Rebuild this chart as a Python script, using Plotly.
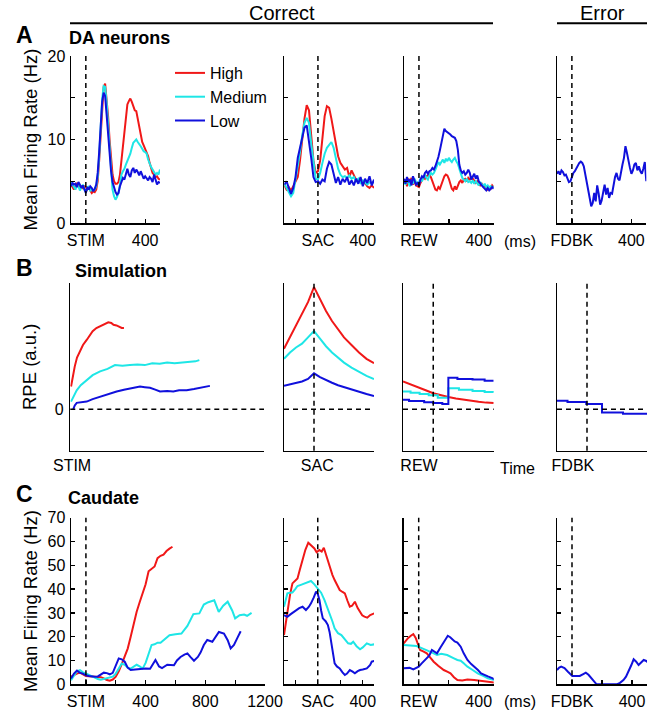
import plotly.graph_objects as go

W, H = 666, 717
RED = "#F01818"
CYAN = "#1EE6E6"
BLUE = "#1010DC"
FONT = "Arial, Liberation Sans, sans-serif"

# ---------------- Row A : DA neurons (Hz) ----------------
tA1 = list(range(-100, 501, 10))
a1_high = [4.6, 4.3, 4.0, 4.4, 4.8, 4.5, 4.2, 4.5, 4.1, 4.4, 4.3, 4.0, 4.3, 3.9, 3.6, 3.8, 3.7, 4.0, 5.0, 7.5,
           10.5, 14.0, 16.3, 16.7, 15.0, 12.8, 10.0, 7.5, 5.8, 5.0, 4.7, 4.7, 4.9, 5.8, 7.5, 9.5, 11.5, 13.0, 14.2, 14.6,
           14.9, 14.5, 14.0, 13.5, 13.4, 12.5, 11.3, 10.3, 9.7, 9.3, 8.8, 8.5, 8.0, 7.2, 6.6, 6.0, 5.8, 5.5, 5.6, 5.3, 5.2]
a1_med = [4.9, 4.6, 4.2, 4.0, 4.6, 4.4, 3.9, 4.3, 4.6, 4.0, 3.7, 4.2, 4.4, 3.8, 4.1, 3.9, 4.0, 4.4, 5.5, 8.0,
          11.5, 14.8, 16.4, 16.3, 14.5, 11.5, 8.5, 5.8, 4.0, 3.2, 2.8, 3.1, 3.6, 4.6, 5.8, 6.2, 6.5, 7.0, 7.4, 7.8,
          8.3, 9.0, 9.6, 9.8, 10.0, 9.7, 9.5, 9.2, 8.9, 8.6, 8.5, 8.3, 7.6, 7.0, 6.7, 6.4, 6.1, 5.8, 6.0, 5.8, 6.4]
a1_low = [4.4, 4.8, 4.6, 4.7, 4.3, 4.9, 4.6, 4.2, 4.5, 3.9, 3.6, 4.3, 4.0, 4.4, 4.2, 3.8, 4.1, 4.6, 6.0, 8.5,
          11.8, 14.5, 15.6, 15.2, 13.0, 10.5, 8.0, 6.2, 4.9, 4.2, 3.7, 3.4, 3.6, 4.4, 5.0, 5.4, 5.2, 5.9, 6.5, 5.8,
          5.5, 6.3, 6.6, 6.0, 6.4, 6.1, 5.7, 6.2, 5.6, 5.3, 5.6, 5.4, 5.1, 5.5, 5.3, 4.9, 5.8, 5.2, 4.6, 4.9, 4.8]

tA2 = list(range(-300, 501, 20))
a2_high = [4.5, 4.0, 4.3, 3.9, 4.4, 5.0, 5.5, 7.5, 10.0, 12.5, 14.1, 13.5, 10.5, 7.5, 6.0, 6.2, 7.5, 10.5, 12.8, 14.0,
           13.8, 12.5, 11.0, 9.2, 8.0, 7.2, 6.8, 6.4, 6.6, 5.5, 6.3, 5.8, 5.2, 5.0, 5.3, 4.7, 4.8, 4.4, 4.2, 4.5, 4.2]
a2_med = [4.7, 4.2, 3.6, 3.2, 3.6, 5.2, 6.5, 8.5, 10.5, 12.0, 12.6, 12.0, 9.5, 7.0, 5.3, 5.2, 6.0, 7.2, 8.3, 9.0,
          9.4, 9.7, 9.0, 7.8, 6.5, 5.8, 5.5, 5.6, 5.4, 5.7, 5.3, 5.5, 5.0, 5.3, 4.8, 5.1, 4.9, 4.6, 4.9, 4.7, 5.0]
a2_low = [4.6, 5.0, 4.2, 3.5, 4.2, 5.5, 7.8, 9.0, 10.2, 11.4, 11.7, 10.0, 7.8, 5.5, 4.9, 5.0, 4.7, 5.2, 5.0, 6.5,
          7.3, 7.0, 6.0, 4.8, 5.5, 4.6, 5.3, 4.9, 5.5, 4.6, 5.1, 4.5, 5.3, 4.7, 5.5, 4.4, 5.3, 4.8, 5.6, 4.5, 5.2]

tA3 = list(range(-100, 501, 10))
a3_high = [4.7, 5.2, 4.4, 5.3, 4.9, 5.4, 4.6, 5.1, 4.5, 4.4, 4.3, 4.8, 5.2, 5.5, 5.3, 5.6, 5.7, 5.8, 5.5, 5.0,
           4.5, 4.0, 3.9, 4.3, 4.1, 4.6, 5.2, 5.6, 5.8, 5.7, 5.3, 4.6, 4.1, 3.9, 4.4, 4.0, 4.5, 4.9, 5.1, 4.8,
           5.2, 5.3, 5.0, 5.4, 5.2, 5.5, 5.3, 5.1, 4.8, 5.0, 4.6, 4.5, 4.7, 4.4, 4.5, 4.2, 4.0, 4.3, 4.1, 4.5, 4.3]
a3_med = [5.0, 4.6, 5.2, 4.8, 4.4, 5.1, 4.7, 5.3, 4.9, 4.6, 4.9, 5.3, 5.0, 5.5, 5.8, 5.4, 5.2, 5.7, 6.0, 5.8,
          6.0, 6.4, 6.8, 7.3, 7.0, 7.4, 7.6, 7.2, 7.7, 7.4, 7.8, 7.5, 7.3, 7.6, 7.8, 7.4, 7.1, 6.5, 5.8, 5.4,
          5.2, 5.0, 5.3, 4.9, 5.0, 4.8, 5.1, 4.7, 5.0, 4.8, 4.5, 4.9, 4.6, 4.4, 4.7, 4.3, 4.5, 4.2, 4.4, 4.3, 4.4]
a3_low = [5.3, 4.7, 5.5, 4.9, 5.2, 4.5, 5.6, 5.0, 4.6, 4.8, 4.5, 5.2, 5.6, 5.4, 6.0, 6.2, 5.9, 6.2, 6.3, 6.6,
          6.4, 6.8, 7.3, 7.9, 8.7, 9.5, 10.6, 11.3, 11.0, 10.9, 10.8, 10.6, 10.4, 10.3, 10.2, 9.8, 8.8, 7.0, 6.3, 6.0,
          6.2, 5.8, 6.0, 6.4, 6.0, 5.2, 5.6, 5.9, 5.3, 5.7, 5.0, 4.7, 4.5, 4.3, 4.1, 3.9, 4.2, 3.9, 4.1, 4.3, 4.1]

tA4 = list(range(-100, 501, 10))
a4_err = [5.9, 6.2, 5.8, 6.3, 6.1, 5.7, 5.8, 5.3, 4.9, 5.0, 5.5, 6.0, 6.2, 6.6, 7.0, 7.2, 7.35, 7.2, 6.8, 5.8,
          4.5, 3.7, 2.9, 2.0, 2.4, 3.6, 2.6, 4.5, 3.5, 2.2, 2.7, 3.8, 4.6, 3.4, 4.2, 3.0, 3.6, 3.5, 4.6, 5.5,
          6.0, 5.3, 5.1, 6.3, 7.0, 7.8, 9.2, 8.4, 7.2, 6.6, 5.9, 6.3, 7.0, 7.2, 6.3, 6.8, 6.2, 5.9, 6.5, 7.3, 5.0]

# ---------------- Row B : Simulation (RPE, a.u.) ----------------
tB1_high = [5, 15, 30, 45, 65, 85, 110, 130, 150, 175, 200, 225, 255, 275, 290, 310, 330, 345, 360]
b1_high = [0.18, 0.26, 0.34, 0.41, 0.46, 0.51, 0.55, 0.59, 0.62, 0.645, 0.66, 0.67, 0.69, 0.685, 0.67, 0.665, 0.655, 0.645, 0.645]
tB1_med = [5, 20, 43, 70, 110, 150, 200, 250, 300, 350, 400, 450, 500, 550, 600, 650, 700, 750, 800, 840, 866]
b1_med = [0.06, 0.10, 0.15, 0.19, 0.23, 0.27, 0.30, 0.32, 0.35, 0.345, 0.35, 0.355, 0.35, 0.365, 0.36, 0.37, 0.365, 0.37, 0.375, 0.38, 0.39]
tB1_low = [20, 30, 43, 80, 110, 150, 200, 250, 311, 360, 420, 468, 500, 535, 570, 602, 650, 691, 730, 781, 830, 870, 910, 937]
b1_low = [0.0, 0.03, 0.05, 0.055, 0.06, 0.08, 0.10, 0.12, 0.14, 0.155, 0.17, 0.18, 0.175, 0.17, 0.155, 0.14, 0.145, 0.14, 0.15, 0.15, 0.16, 0.17, 0.175, 0.185]

tB2 = [-200, -160, -120, -80, -40, 0, 40, 80, 120, 160, 200, 250, 300, 350, 400]
b2_high = [0.48, 0.57, 0.66, 0.75, 0.85, 0.97, 0.87, 0.78, 0.70, 0.63, 0.57, 0.51, 0.45, 0.40, 0.365]
b2_med = [0.40, 0.45, 0.49, 0.52, 0.57, 0.62, 0.56, 0.50, 0.45, 0.41, 0.37, 0.33, 0.295, 0.265, 0.24]
b2_low = [0.185, 0.195, 0.21, 0.22, 0.24, 0.285, 0.255, 0.23, 0.21, 0.19, 0.175, 0.155, 0.135, 0.12, 0.105]

tB3_high = [-200, -150, -100, -50, 0, 50, 100, 150, 200, 250, 300, 350, 400]
b3_high = [0.22, 0.195, 0.175, 0.15, 0.127, 0.11, 0.097, 0.085, 0.075, 0.066, 0.058, 0.052, 0.048]
tB3_med = [-200, -150, -90, -30, 30, 100, 170, 260, 340, 400]
b3_med = [0.14, 0.13, 0.12, 0.11, 0.09, 0.167, 0.155, 0.145, 0.137, 0.135]
tB3_low = [-200, -160, -60, 0, 60, 100, 160, 260, 340, 400]
b3_low = [0.074, 0.065, 0.055, 0.048, 0.042, 0.25, 0.24, 0.235, 0.225, 0.225]

tB4 = [-200, -130, -5, 100, 240, 400]
b4_err = [0.066, 0.056, 0.042, -0.027, -0.037, -0.037]

# ---------------- Row C : Caudate (Hz) ----------------
tC1_high = [-100, -80, -60, -40, -20, 0, 20, 40, 60, 80, 100, 120, 140, 160, 180, 200, 220, 240, 260, 280,
            300, 320, 340, 360, 380, 400, 420, 440, 460, 480, 500, 520, 540, 560, 580]
c1_high = [3.2, 4.0, 4.5, 4.9, 4.2, 3.5, 3.4, 3.3, 3.1, 3.2, 3.0, 2.5, 1.8, 1.5, 2.0, 3.2, 5.5, 8.5, 11.5, 15.0,
           20.0, 26.0, 30.5, 34.5, 38.0, 42.0, 47.5, 48.5, 49.5, 53.0, 54.0, 54.5, 56.0, 57.0, 57.8]
tC1_med = [-100, -80, -60, -40, -20, 0, 20, 40, 60, 80, 100, 120, 140, 160, 180, 200, 220, 240, 260, 280,
           300, 320, 340, 360, 380, 400, 420, 440, 460, 480, 500, 530, 560, 600, 640, 680, 720, 760, 790, 820,
           860, 890, 920, 950, 980, 1000, 1030, 1060, 1080, 1110]
c1_med = [1.7, 3.5, 5.5, 6.0, 5.0, 4.6, 4.0, 3.2, 2.6, 2.2, 1.9, 2.2, 2.5, 2.8, 3.2, 4.5, 6.5, 8.7, 8.2, 7.0,
          6.6, 7.5, 8.2, 7.5, 6.6, 9.0, 13.0, 16.5, 16.8, 17.5, 17.5, 19.0, 20.6, 21.0, 21.3, 24.5, 29.5, 29.8, 33.5, 34.5,
          35.3, 30.4, 33.0, 34.7, 31.0, 27.7, 29.0, 29.3, 28.8, 30.0]
tC1_low = [-100, -80, -60, -40, -20, 0, 20, 40, 60, 80, 100, 120, 140, 160, 180, 200, 220, 240, 260, 280,
           300, 330, 360, 400, 430, 450, 466, 490, 510, 545, 590, 610, 634, 660, 680, 700, 724, 750, 768, 790,
           813, 847, 870, 891, 925, 950, 970, 992, 1015, 1037]
c1_low = [2.4, 4.5, 5.8, 4.8, 4.5, 3.8, 3.5, 3.3, 3.2, 3.3, 4.0, 4.9, 4.7, 4.2, 4.8, 7.5, 10.9, 10.5, 9.5, 7.0,
          6.0, 6.2, 6.5, 6.6, 6.5, 8.5, 10.2, 7.5, 6.8, 8.2, 8.0, 10.0, 11.5, 12.5, 13.0, 11.5, 9.9, 11.5, 13.3, 16.5,
          18.6, 17.9, 20.0, 22.0, 21.3, 18.5, 15.1, 16.5, 19.5, 22.3]

tC2_high = [-300, -270, -245, -225, -200, -180, -160, -135, -110, -84, -60, -30, -10, 15, 35, 54, 80, 105, 130, 150,
            175, 195, 220, 241, 265, 285, 305, 330, 355, 376, 395, 415, 440, 466, 490, 502]
c2_high = [20.7, 31.2, 38.0, 42.4, 43.5, 44.5, 48.0, 52.2, 56.5, 59.5, 58.5, 57.1, 55.5, 56.4, 55.8, 57.4, 53.5, 49.4, 46.0, 43.8,
           41.5, 39.6, 38.8, 38.2, 35.0, 32.6, 33.0, 34.7, 32.0, 30.5, 29.0, 28.4, 28.0, 29.1, 29.5, 29.8]
tC2_med = [-300, -270, -245, -225, -200, -180, -150, -120, -90, -60, -30, 0, 30, 60, 85, 105, 130, 150, 180, 210,
           240, 270, 295, 315, 345, 376, 400, 436, 470, 502]
c2_med = [32.6, 38.2, 38.5, 38.6, 40.0, 41.3, 41.8, 42.4, 42.8, 43.4, 42.0, 40.3, 38.5, 35.4, 32.5, 29.8, 26.5, 23.5, 21.5, 20.7,
          19.0, 17.2, 17.0, 17.9, 16.0, 14.7, 15.5, 17.2, 16.5, 16.8]
tC2_low = [-300, -270, -240, -195, -165, -135, -105, -80, -60, -35, -15, 0, 15, 30, 45, 70, 90, 105, 120, 135,
           150, 170, 195, 220, 241, 260, 285, 310, 330, 355, 376, 400, 436, 466, 480, 502]
c2_low = [29.1, 28.4, 29.5, 31.2, 32.0, 32.6, 31.2, 32.5, 34.0, 36.5, 38.9, 38.0, 35.4, 31.0, 27.7, 26.5, 24.9, 22.0, 17.2, 12.5,
          8.8, 7.5, 6.7, 5.0, 3.9, 4.5, 6.0, 5.3, 4.6, 5.5, 6.0, 6.2, 6.7, 8.1, 9.5, 9.8]

tC3_high = [-100, -70, -50, -36, -20, 0, 9, 30, 54, 80, 100, 130, 167, 190, 212, 235, 258, 290, 325, 370, 416, 460, 506]
c3_high = [17.2, 19.5, 20.5, 21.1, 19.5, 16.5, 14.4, 13.8, 13.0, 11.0, 9.5, 7.8, 6.0, 5.3, 4.6, 3.0, 1.8, 1.6, 2.0, 1.8, 1.5, 1.0, 0.7]
tC3_med = [-100, -60, -14, 20, 54, 90, 122, 150, 190, 212, 235, 258, 280, 300, 325, 360, 393, 430, 461, 506]
c3_med = [16.5, 16.3, 16.1, 15.2, 14.4, 13.3, 12.3, 12.8, 12.3, 11.5, 10.9, 10.2, 9.9, 8.8, 7.4, 6.0, 4.6, 3.5, 2.5, 1.8]
tC3_low = [-100, -60, -36, 0, 20, 43, 70, 88, 105, 122, 145, 167, 194, 210, 224, 240, 258, 280, 300, 325,
           350, 371, 395, 416, 440, 461, 490, 506]
c3_low = [6.7, 6.9, 6.3, 7.4, 8.8, 10.2, 12.0, 14.4, 13.5, 13.0, 15.5, 17.9, 20.4, 19.8, 19.0, 18.0, 17.5, 15.8, 13.0, 10.2,
          8.5, 7.4, 6.0, 4.6, 3.8, 3.3, 2.6, 2.0]

tC4 = [-100, -85, -72, -50, -27, 2, 30, 52, 75, 92, 110, 131, 150, 164, 200, 250, 298, 320, 343, 360,
       377, 395, 411, 428, 444, 460, 478, 495, 505]
c4_err = [6.0, 7.0, 7.4, 6.8, 5.3, 3.5, 3.5, 3.5, 4.3, 4.9, 4.0, 2.4, 1.0, 0.0, 0.0, 0.0, 0.0, 0.6, 1.8, 3.2,
          5.3, 8.0, 10.5, 9.5, 8.1, 9.3, 10.2, 9.8, 9.2]

# tick labels
labA = [["STIM", "", "400"], ["", "SAC", "", "400"], ["REW", "", "400"], ["FDBK", "", "400"]]
tickA = [[0, 200, 400], [-200, 0, 200, 400], [0, 200, 400], [0, 200, 400]]
labC = [["STIM", "", "400", "", "800", "", "1200"], ["", "SAC", "", "400"], ["REW", "", "400"], ["FDBK", "", "400"]]
tickC = [[0, 200, 400, 600, 800, 1000, 1200], [-200, 0, 200, 400], [0, 200, 400], [0, 200, 400]]
labB = ["STIM", "SAC", "REW", "FDBK"]
tickB = [12, 22, -94, -94]
legend_names = ["High", "Medium", "Low"]

# ---------------- layout geometry (pixels) ----------------
geo = {
    1: ((71, 160), (56, 223), [-100, 500], [0, 20]),
    2: ((284.3, 374), (56, 223), [-300, 500], [0, 20]),
    3: ((404, 493.7), (56, 223), [-100, 500], [0, 20]),
    4: ((557, 646.3), (56, 223), [-100, 500], [0, 20]),
    5: ((70.3, 264), (283.3, 450.7), [0, 1300], [-0.33, 1.0]),
    6: ((284, 374), (283.3, 450.7), [-200, 400], [-0.33, 1.0]),
    7: ((403, 493.7), (283.3, 450.7), [-200, 400], [-0.33, 1.0]),
    8: ((557, 647), (283.3, 450.7), [-200, 400], [-0.33, 1.0]),
    9: ((71, 265), (517.7, 684.3), [-100, 1200], [0, 70]),
    10: ((284, 374), (517.7, 684.3), [-300, 500], [0, 70]),
    11: ((403.7, 493.7), (517.7, 684.3), [-100, 500], [0, 70]),
    12: ((557, 647), (517.7, 684.3), [-100, 500], [0, 70]),
}

fig = go.Figure()


def ax(i, kind):
    return kind if i == 1 else f"{kind}{i}"


def add(i, t, v, color, name=None, shape="linear", width=2.0):
    fig.add_trace(go.Scatter(
        x=t, y=v, mode="lines", line=dict(color=color, width=width, shape=shape),
        xaxis=ax(i, "x"), yaxis=ax(i, "y"), name=name or "",
        showlegend=name is not None, hoverinfo="skip"))


add(1, tA1, a1_high, RED, legend_names[0])
add(1, tA1, a1_med, CYAN, legend_names[1])
add(1, tA1, a1_low, BLUE, legend_names[2])
add(2, tA2, a2_high, RED); add(2, tA2, a2_med, CYAN); add(2, tA2, a2_low, BLUE)
add(3, tA3, a3_high, RED); add(3, tA3, a3_med, CYAN); add(3, tA3, a3_low, BLUE)
add(4, tA4, a4_err, BLUE)

add(5, tB1_high, b1_high, RED); add(5, tB1_med, b1_med, CYAN); add(5, tB1_low, b1_low, BLUE)
add(6, tB2, b2_high, RED); add(6, tB2, b2_med, CYAN); add(6, tB2, b2_low, BLUE)
add(7, tB3_high, b3_high, RED); add(7, tB3_med, b3_med, CYAN, shape="hv"); add(7, tB3_low, b3_low, BLUE, shape="hv")
add(8, tB4, b4_err, BLUE, shape="hv")

add(9, tC1_high, c1_high, RED); add(9, tC1_med, c1_med, CYAN); add(9, tC1_low, c1_low, BLUE)
add(10, tC2_high, c2_high, RED); add(10, tC2_med, c2_med, CYAN); add(10, tC2_low, c2_low, BLUE)
add(11, tC3_high, c3_high, RED); add(11, tC3_med, c3_med, CYAN); add(11, tC3_low, c3_low, BLUE)
add(12, tC4, c4_err, BLUE)

tickfont = dict(family=FONT, size=16, color="black")
layout = {}
shapes = []
for i, ((x0, x1), (y0, y1), xr, yr) in geo.items():
    col = (i - 1) % 4
    row = (i - 1) // 4
    xa = dict(domain=[x0 / W, x1 / W], range=xr, anchor=ax(i, "y"), showline=True, linecolor="black",
              linewidth=1.5, showgrid=False, zeroline=False, tickfont=tickfont, fixedrange=True,
              ticklabelstandoff=2, automargin=False)
    ya = dict(domain=[1 - y1 / H, 1 - y0 / H], range=yr, anchor=ax(i, "x"), showline=True, linecolor="black",
              linewidth=1.5, showgrid=False, zeroline=False, tickfont=tickfont, fixedrange=True,
              ticklabelstandoff=1, automargin=False)
    if row == 0:
        xa.update(ticks="inside", ticklen=4, tickwidth=1.3, tickcolor="black",
                  tickvals=tickA[col], ticktext=labA[col])
        ya.update(ticks="inside", ticklen=4, tickwidth=1.3, tickcolor="black",
                  tickvals=[0, 5, 10, 15, 20],
                  ticktext=["0", "", "10", "", "20"] if col == 0 else [""] * 5)
    elif row == 1:
        xa.update(ticks="", tickvals=[tickB[col]], ticktext=[labB[col]], ticklabelstandoff=0)
        ya.update(ticks="", tickvals=[0], ticktext=["0"] if col == 0 else [""], ticklabelstandoff=2)
    else:
        xa.update(ticks="inside", ticklen=4, tickwidth=1.3, tickcolor="black",
                  tickvals=tickC[col], ticktext=labC[col])
        ya.update(ticks="inside", ticklen=4, tickwidth=1.3, tickcolor="black",
                  tickvals=list(range(0, 71, 10)),
                  ticktext=[str(v) for v in range(0, 71, 10)] if col == 0 else [""] * 8)
    layout[ax(i, "xaxis")] = xa
    layout[ax(i, "yaxis")] = ya
    dash = dict(color="black", width=1.5, dash="5px,4px")
    if not (row == 1 and col == 0):
        shapes.append(dict(type="line", xref=ax(i, "x"), yref=ax(i, "y") + " domain",
                           x0=0, x1=0, y0=0, y1=1, line=dash, layer="above"))
    if row == 1:
        shapes.append(dict(type="line", xref=ax(i, "x") + " domain", yref=ax(i, "y"),
                           x0=0, x1=1, y0=0, y1=0, line=dash, layer="above"))

# header lines
for (xa0, xa1) in [(70, 493), (557, 647)]:
    shapes.append(dict(type="line", xref="paper", yref="paper", x0=xa0 / W, x1=xa1 / W,
                       y0=1 - 23.3 / H, y1=1 - 23.3 / H, line=dict(color="black", width=2)))


def ann(text, x, y, size, bold=False, angle=0, xanchor="center"):
    return dict(text=f"<b>{text}</b>" if bold else text, x=x / W, y=1 - y / H, xref="paper", yref="paper",
                showarrow=False, xanchor=xanchor, yanchor="middle", textangle=angle,
                font=dict(family=FONT, size=size, color="black"))


annotations = [
    ann("Correct", 282, 13, 20),
    ann("Error", 602.5, 13, 20),
    ann("A", 24, 35, 23, bold=True),
    ann("B", 24.5, 268, 23, bold=True),
    ann("C", 24.5, 494, 23, bold=True),
    ann("DA neurons", 67, 38, 18, bold=True, xanchor="left"),
    ann("Simulation", 73, 271, 18, bold=True, xanchor="left"),
    ann("Caudate", 66, 498, 18, bold=True, xanchor="left"),
    ann("Mean Firing Rate (Hz)", 30, 139.5, 18.5, angle=-90),
    ann("RPE (a.u.)", 30, 367, 18.5, angle=-90),
    ann("Mean Firing Rate (Hz)", 30, 601, 18.5, angle=-90),
    ann("(ms)", 520, 241, 16),
    ann("Time", 517, 468, 16),
    ann("(ms)", 520, 701, 16),
]

fig.update_layout(
    template="none",
    width=W, height=H, margin=dict(l=0, r=0, t=0, b=0, autoexpand=False),
    paper_bgcolor="white", plot_bgcolor="white",
    shapes=shapes, annotations=annotations,
    legend=dict(x=170 / W, y=1 - 56 / H, xanchor="left", yanchor="top", bgcolor="rgba(0,0,0,0)",
                font=dict(family=FONT, size=16, color="black"), tracegroupgap=0, borderwidth=0),
    **layout,
)

fig.write_html("out.html", config={"displayModeBar": False, "staticPlot": True},
               post_script="document.body.style.margin='0px';document.body.style.padding='0px';")
